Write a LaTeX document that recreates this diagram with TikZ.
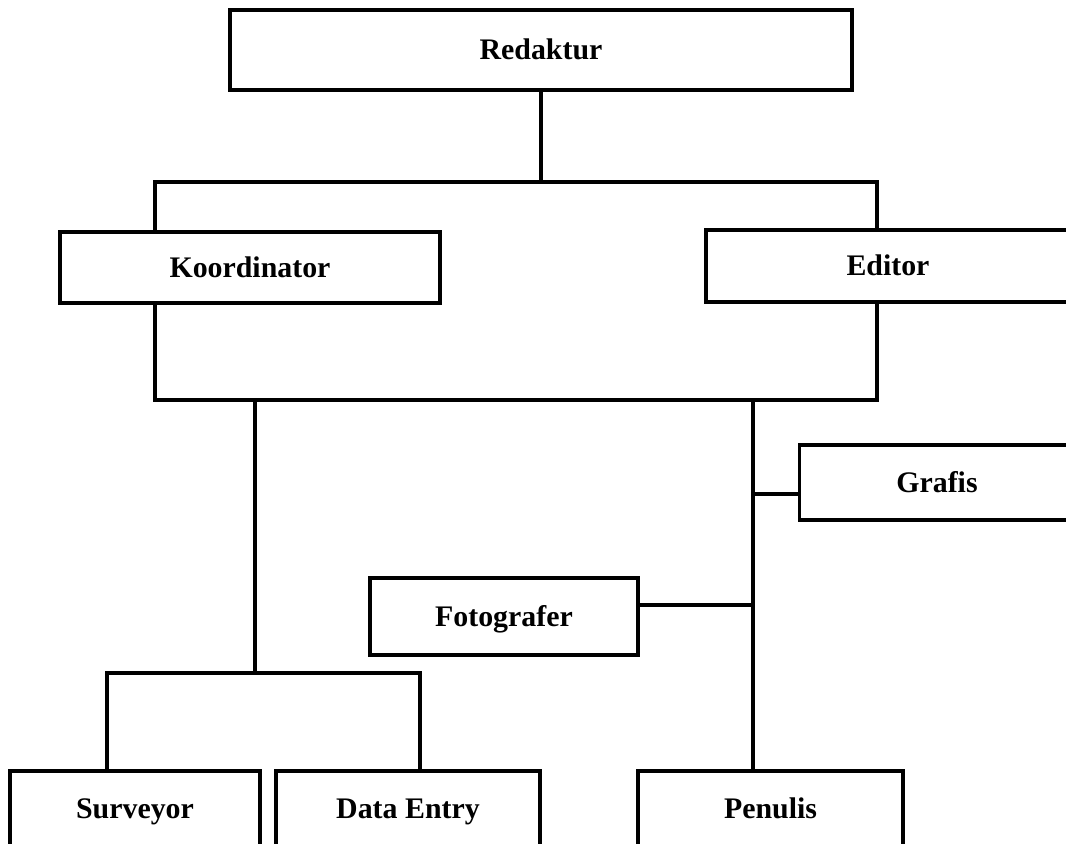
\documentclass[tikz,border=0pt]{standalone}
\usepackage{fontspec}
\setmainfont{Liberation Serif}
\usepackage{tikz}

\begin{document}
\begin{tikzpicture}[x=0.02cm,y=-0.02cm,line width=2pt,
  org_box/.style={rectangle,draw,line width=2.1pt,minimum height=1.5cm,inner sep=3pt,text height=11.3pt,text depth=0pt,font=\fontsize{17}{20}\selectfont\bfseries}]

	\useasboundingbox (0,0) rectangle (1066,843);
	\clip (0,0) rectangle (1066,843);

	\node[org_box,minimum width=12.44cm,minimum height=1.6cm] (redaktur) at (541,50) {Redaktur};
	\node[org_box,minimum width=7.6cm,minimum height=1.42cm] (koordinator) at (250,267.5) {Koordinator};
	\node[org_box,minimum width=7.28cm,minimum height=1.44cm] (editor) at (888,266) {Editor};
	\node[org_box,minimum width=5.5cm] (grafis) at (937,482.5) {Grafis};
	\node[org_box,minimum width=5.36cm,minimum height=1.54cm] (fotografer) at (504,616.5) {Fotografer};
	\node[org_box,minimum width=5cm,minimum height=1.52cm] (surveyor) at (135,809) {Surveyor};
	\node[org_box,minimum width=5.28cm,minimum height=1.52cm] (dataentry) at (408,809) {Data Entry};
	\node[org_box,minimum width=5.3cm,minimum height=1.52cm] (penulis) at (770.5,809) {Penulis};

	\coordinate (topbar) at (541,182);
	\coordinate (kt) at (155,182);
	\coordinate (et) at (877,182);
	\coordinate (kb) at (155,400);
	\coordinate (eb) at (877,400);
	\coordinate (kdown) at (255,400);
	\coordinate (split) at (255,673);
	\coordinate (sl) at (107,673);
	\coordinate (dr) at (420,673);
	\coordinate (edown) at (753,402);
	\coordinate (gj) at (753,494);
	\coordinate (fj) at (753,605);

	\draw (redaktur.south) -- (topbar);
	\draw (kt |- koordinator.north) -- (kt) -- (et) -- (et |- editor.north);
	\draw (kb |- koordinator.south) -- (kb) -- (eb) -- (eb |- editor.south);
	\draw (kdown) -- (split);
	\draw (sl |- surveyor.north) -- (sl) -- (dr) -- (dr |- dataentry.north);
	\draw (edown) -- (edown |- penulis.north);
	\draw (gj) -- (gj -| grafis.west);
	\draw (fj) -- (fj -| fotografer.east);

\end{tikzpicture}
\end{document}
